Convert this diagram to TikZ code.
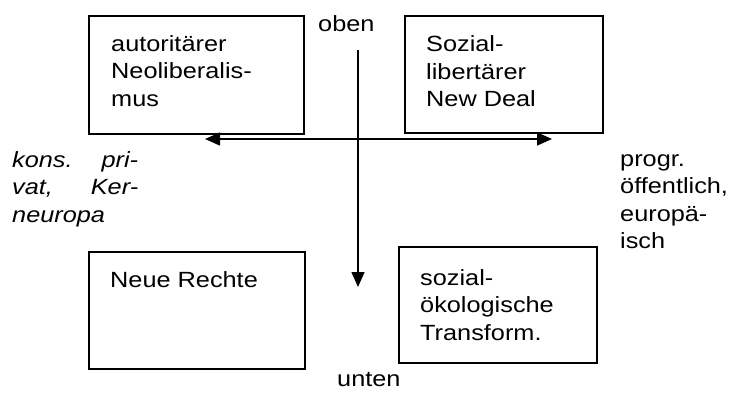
\documentclass[tikz,border=0pt]{standalone}
\usepackage{fontspec}
\setmainfont{Liberation Sans}[FakeStretch=1.15]
\usetikzlibrary{arrows.meta}
\newcommand{\FONTSIZE}{22}
\newcommand{\LINESKIP}{27.4}

\begin{document}
\begin{tikzpicture}[x=1pt, y=-1pt,
        >={Triangle[length=15pt, width=13pt]},
        feld/.style={draw, line width=1.3pt, inner sep=0pt, outer sep=0pt},
        schrift/.style={inner sep=0pt, align=left, font=\fontsize{\FONTSIZE}{\LINESKIP}\selectfont},
        feldtext/.style={schrift, anchor=north west},
        achse/.style={line width=1.6pt}]
    \useasboundingbox (0, 0) rectangle (729, 392);

    % vier Felder
    \node[feld, minimum width=215pt, minimum height=118pt] (autoritaer) at (196.5, 75) {};
    \node[feld, minimum width=198pt, minimum height=117pt] (newdeal) at (504, 74.5) {};
    \node[feld, minimum width=216pt, minimum height=117pt] (rechte) at (197, 310.5) {};
    \node[feld, minimum width=198pt, minimum height=116pt] (transform) at (498, 305) {};

    % Texte in den Feldern
    \node[feldtext] (autoritaer-text) at (111, 31.9) {\strut autoritärer\\Neoliberalis-\\mus};
    \node[feldtext] (newdeal-text) at (426, 32.4) {\strut Sozial-\\libertärer\\New Deal};
    \node[feldtext] (rechte-text) at (110, 267.9) {\strut Neue Rechte};
    \node[feldtext] (transform-text) at (420, 265.9) {\strut sozial-\\ökologische\\Transform.};

    % Pole der Achsen
    \node[schrift, anchor=base west] (oben) at (318, 31) {oben};
    \node[schrift, anchor=base west] (unten) at (337, 386.5) {unten};
    \node[feldtext, text width=126pt, font=\fontsize{\FONTSIZE}{\LINESKIP}\selectfont\itshape] (links) at (12, 147.9)
        {\strut kons.\hfill pri-\\vat,\hfill Ker-\\neuropa};
    \node[feldtext] (rechts) at (620, 147) {\strut progr.\\öffentlich,\\europä-\\isch};

    % Achsen
    \coordinate (oben-ende) at (358, 50);
    \coordinate (unten-ende) at (358, 287);
    \coordinate (links-ende) at (205, 139);
    \coordinate (rechts-ende) at (552, 139);
    \draw[achse, <->] (links-ende) -- (rechts-ende);
    \draw[achse, ->] (oben-ende) -- (unten-ende);
\end{tikzpicture}
\end{document}
